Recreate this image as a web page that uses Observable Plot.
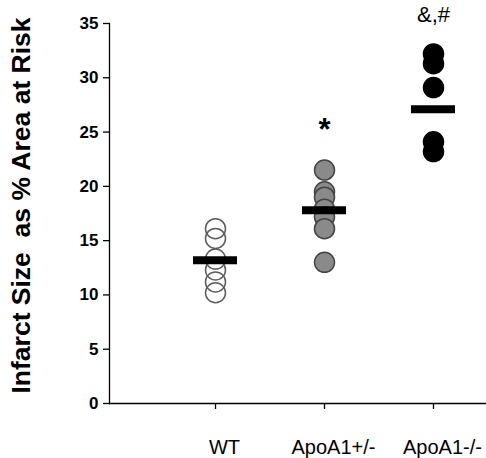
<!DOCTYPE html>
<html><head><meta charset="utf-8">
<script src="https://cdn.jsdelivr.net/npm/d3@7"></script>
<script src="https://cdn.jsdelivr.net/npm/@observablehq/plot@0.6"></script>
<style>body{margin:0;background:#fff;}</style>
</head><body><div id="chart"></div>
<script>
const groups = ["WT", "ApoA1+/-", "ApoA1-/-"];
const wtValues = [16.1, 15.2, 13.3, 12.3, 11.2, 10.2];
const hetValues = [21.5, 19.5, 19.0, 17.9, 17.2, 16.1, 13.0];
const koValues = [32.2, 31.3, 29.1, 24.1, 23.2];
const groupMeans = [13.2, 17.8, 27.1];
const significance = ["", "*", "&,#"];
const yTicks = [0, 5, 10, 15, 20, 25, 30, 35];
const yTitle = "Infarct Size  as % Area at Risk";

const seriesValues = [wtValues, hetValues, koValues];
const points = groups.flatMap((g, i) => seriesValues[i].map(v => ({group: g, value: v})));
const means = groups.map((g, i) => ({group: g, value: groupMeans[i]}));
const notes = groups.map((g, i) => ({group: g, label: significance[i], top: d3.max(seriesValues[i])}));

const fills = {"WT": "none", "ApoA1+/-": "#8a8a8a", "ApoA1-/-": "#000000"};
const strokes = {"WT": "#5e5e5e", "ApoA1+/-": "#444444", "ApoA1-/-": "#000000"};

const chart = Plot.plot({
  width: 486, height: 458,
  marginLeft: 109, marginRight: 0, marginTop: 23, marginBottom: 55,
  style: {fontFamily: "'Liberation Sans', Arial, sans-serif", background: "white", overflow: "visible", color: "black"},
  x: {domain: groups, range: [127.8, 520.2], padding: 0.6, axis: null},
  y: {domain: [0, 35], axis: null},
  marks: [
    Plot.axisY({ticks: yTicks, tickSize: 6, tickPadding: 5, fontSize: 17, fontWeight: "bold", label: null, strokeWidth: 1.3}),
    Plot.frame({anchor: "left", strokeWidth: 1.3}),
    Plot.ruleY([0], {strokeWidth: 1.3}),
    Plot.axisX({ticks: groups, tickSize: 6, tickFormat: () => "", label: null, strokeWidth: 1.3}),
    Plot.text(groups, {x: d => d, frameAnchor: "bottom", lineAnchor: "top", dy: 36, dx: 9, fontSize: 20}),
    Plot.text([yTitle], {frameAnchor: "left", rotate: -90, textAnchor: "middle", dx: -88, dy: -8, fontSize: 26.5, fontWeight: "bold"}),
    Plot.dot(points, {x: "group", y: "value", r: 10, fill: d => fills[d.group], stroke: d => strokes[d.group], strokeWidth: 1.5}),
    Plot.tickY(means, {x: "group", y: "value", stroke: "black", strokeWidth: 8}),
    Plot.text(notes.filter(d => d.label === "*"), {x: "group", y: "top", text: "label", dy: -40, fontSize: 31, fontWeight: "bold"}),
    Plot.text(notes.filter(d => d.label === "&,#"), {x: "group", y: "top", text: "label", dy: -39, fontSize: 22})
  ]
});
document.getElementById("chart").appendChild(chart);
</script>
</body></html>
